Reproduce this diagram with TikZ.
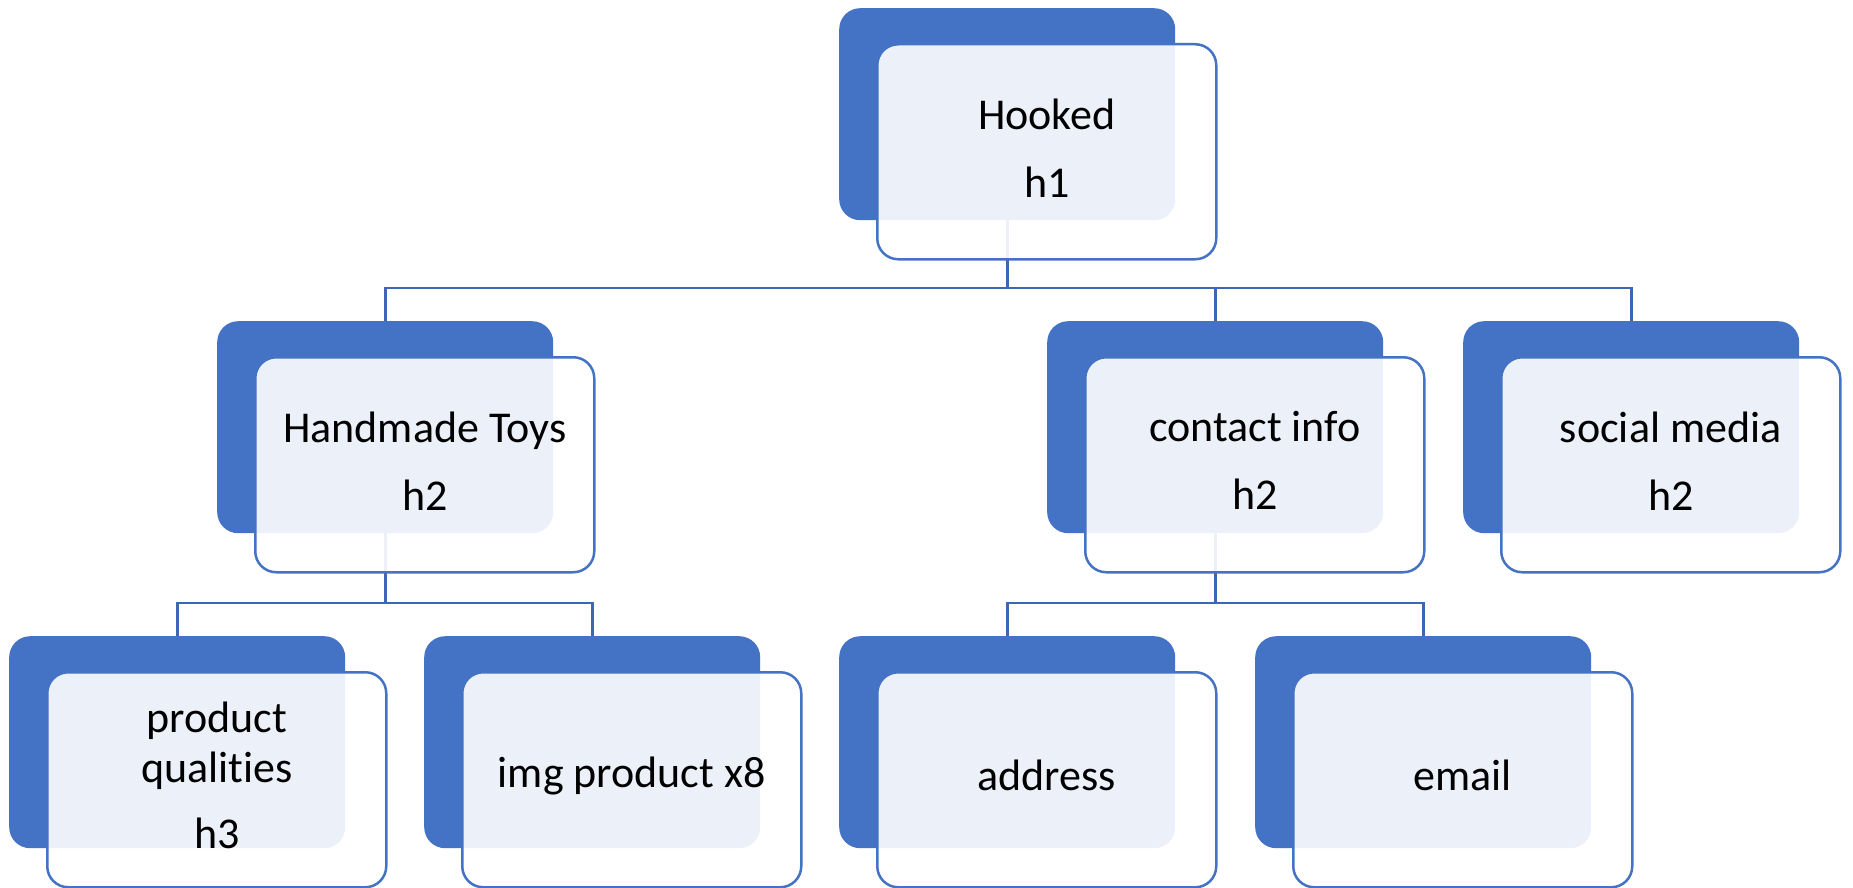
\documentclass[tikz,border=0pt]{standalone}
\usepackage{fontspec}
\setmainfont{Carlito}[Ligatures=NoCommon]
\usetikzlibrary{calc}
\pgfdeclarelayer{bg}
\pgfsetlayers{bg,main}
\definecolor{accent}{HTML}{4472C4}
\definecolor{connblue}{HTML}{3E67B1}
\tikzset{
  darkbox/.style={rectangle, rounded corners=21pt, fill=accent, draw=none,
    minimum width=336pt, minimum height=212pt, inner sep=0pt, anchor=north west},
  lightbox/.style={rectangle, rounded corners=21pt, fill=white, fill opacity=0.9,
    draw=accent, draw opacity=1, line width=2.5pt,
    minimum width=339pt, minimum height=215pt, inner sep=0pt, anchor=north west},
  txt/.style={inner sep=0pt, align=center, yshift=4pt,
    font=\fontsize{44}{50}\selectfont},
  conn/.style={draw=connblue, line width=2.6pt}
}
\begin{document}
\begin{tikzpicture}[x=1pt,y=-1pt]
\useasboundingbox (0,0) rectangle (1853,888);
\node[darkbox] (d1) at (839,8) {};
\node[lightbox] (l1) at (876,43) {};
\node[txt] (t1) at (l1.center) {Hooked\\[18pt]h1};
\node[darkbox] (d2) at (217,321) {};
\node[lightbox] (l2) at (254,356) {};
\node[txt] (t2) at (l2.center) {Handmade Toys\\[18pt]h2};
\node[darkbox] (d3) at (1047,321) {};
\node[lightbox] (l3) at (1084,356) {};
\node[txt] (t3) at (l3.center) {contact info\\[18pt]h2};
\node[darkbox] (d4) at (1463,321) {};
\node[lightbox] (l4) at (1500,356) {};
\node[txt] (t4) at (l4.center) {social media\\[18pt]h2};
\node[darkbox] (d5) at (9,636) {};
\node[lightbox] (l5) at (46,671) {};
\node[txt] (t5) at (l5.center) {product\\qualities\\[16pt]h3};
\node[darkbox] (d6) at (424,636) {};
\node[lightbox] (l6) at (461,671) {};
\node[txt] (t6) at (l6.center) {img product x8};
\node[darkbox] (d7) at (839,636) {};
\node[lightbox] (l7) at (876,671) {};
\node[txt] (t7) at (l7.center) {address};
\node[darkbox] (d8) at (1255,636) {};
\node[lightbox] (l8) at (1292,671) {};
\node[txt] (t8) at (l8.center) {email};
\coordinate (bus1) at (0,288);
\coordinate (bus2) at (0,603);
\begin{pgfonlayer}{bg}
\fill[white] (0,0) rectangle (1853,888);
\draw[conn] (d1.south) -- (d1.south |- bus1) -| (d2.north);
\draw[conn] (d1.south |- bus1) -| (d3.north);
\draw[conn] (d1.south |- bus1) -| (d4.north);
\draw[conn] (d2.south) -- (d2.south |- bus2) -| (d5.north);
\draw[conn] (d2.south |- bus2) -| (d6.north);
\draw[conn] (d3.south) -- (d3.south |- bus2) -| (d7.north);
\draw[conn] (d3.south |- bus2) -| (d8.north);
\end{pgfonlayer}
\end{tikzpicture}
\end{document}
